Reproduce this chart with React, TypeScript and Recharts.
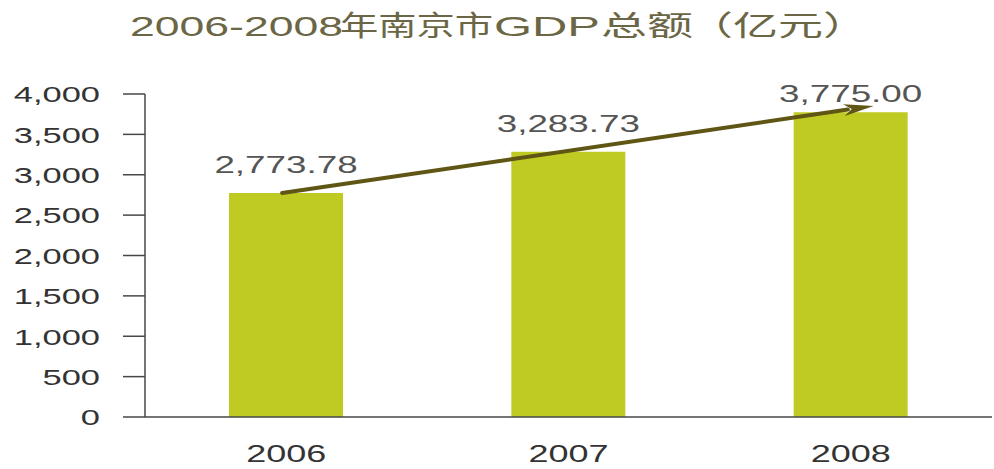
import React from "react";
import { BarChart, Bar, XAxis, YAxis, LabelList, ReferenceLine } from "recharts";

const years = ["2006", "2007", "2008"];
const gdp = [2773.78, 3283.73, 3775.0];
const yTicks = [0, 500, 1000, 1500, 2000, 2500, 3000, 3500, 4000];

const data = years.map((year, i) => ({ year, gdp: gdp[i] }));

const TITLE_COLOR = "#6b6645";
const AXIS_COLOR = "#474747";
const BAR_COLOR = "#bfcb22";
const ARROW_COLOR = "#5f5514";

const font = "'Liberation Sans', Arial, 'Noto Sans CJK SC', sans-serif";

const YTick = ({ x, y, payload }: any) => (
  <text
    transform={`translate(${x} ${y}) scale(1.5 1)`}
    textAnchor="end"
    dy="0.36em"
    fontSize={23}
    fontFamily={font}
    fill="#333"
  >
    {Number(payload.value).toLocaleString("en-US")}
  </text>
);

const XTick = ({ x, y, payload }: any) => (
  <text
    transform={`translate(${x} ${y + 45}) scale(1.5 1)`}
    textAnchor="middle"
    fontSize={24}
    fontFamily={font}
    fill="#333"
  >
    {payload.value}
  </text>
);

const ValueLabel = ({ x, y, width, value, index }: any) => {
  // 最后一个标签离柱顶更近
  const lift = index === gdp.length - 1 ? 10 : 20;
  return (
    <text
      transform={`translate(${x + width / 2} ${y - lift}) scale(1.6 1)`}
      textAnchor="middle"
      fontSize={23}
      fontFamily={font}
      fill="#555"
    >
      {Number(value).toLocaleString("en-US", {
        minimumFractionDigits: 2,
        maximumFractionDigits: 2,
      })}
    </text>
  );
};

// 趋势箭头：从首柱顶到末柱顶，箭头尖稍超出
const Arrow = (props: any) => {
  const { x1, y1, x2, y2 } = props;
  if ([x1, y1, x2, y2].some((v) => typeof v !== "number")) return null;
  const dx = x2 - x1;
  const dy = y2 - y1;
  const len = Math.sqrt(dx * dx + dy * dy);
  const ux = dx / len;
  const uy = dy / len;
  const tipX = x2 + ux * 23;
  const tipY = y2 + uy * 23 - 3;
  const headLen = 30;
  const half = 6;
  const baseX = tipX - ux * headLen;
  const baseY = tipY - uy * headLen;
  const px = -uy;
  const py = ux;
  return (
    <g>
      <line
        x1={x1 - 4}
        y1={y1}
        x2={baseX + ux * 4}
        y2={baseY + uy * 4}
        stroke={ARROW_COLOR}
        strokeWidth={4}
        strokeLinecap="round"
      />
      <polygon
        points={`${tipX},${tipY} ${baseX + px * half},${baseY + py * half} ${baseX + ux * 8},${baseY + uy * 8} ${baseX - px * half},${baseY - py * half}`}
        fill={ARROW_COLOR}
      />
    </g>
  );
};

const Title = () => (
  <svg
    width={994}
    height={60}
    style={{ position: "absolute", left: 0, top: 0 }}
  >
    <g fontSize={28} fontFamily={font} fill={TITLE_COLOR}>
      <text x={130} y={36} textLength={213} lengthAdjust="spacingAndGlyphs">
        2006-2008
      </text>
      <text x={340} y={36} textLength={153} lengthAdjust="spacingAndGlyphs">
        年南京市
      </text>
      <text x={494} y={36} textLength={106} lengthAdjust="spacingAndGlyphs">
        GDP
      </text>
      <text x={601} y={36} textLength={92} lengthAdjust="spacingAndGlyphs">
        总额
      </text>
      <text x={688} y={36} textLength={180} lengthAdjust="spacingAndGlyphs">
        （亿元）
      </text>
    </g>
  </svg>
);

export default function App() {
  return (
    <div
      style={{
        position: "absolute",
        left: 0,
        top: 0,
        width: 994,
        height: 469,
        background: "#fff",
      }}
    >
      <BarChart
        width={994}
        height={469}
        data={data}
        margin={{ top: 94, right: 2, left: 0, bottom: 2 }}
      >
        <XAxis
          dataKey="year"
          axisLine={{ stroke: AXIS_COLOR, strokeWidth: 1.5 }}
          tickLine={false}
          tickSize={0}
          tickMargin={0}
          height={50}
          tick={<XTick />}
        />
        <YAxis
          domain={[0, 4000]}
          ticks={yTicks}
          width={145}
          axisLine={{ stroke: AXIS_COLOR, strokeWidth: 1.5 }}
          tickLine={{ stroke: AXIS_COLOR, strokeWidth: 1.5 }}
          tickSize={22}
          tickMargin={23}
          tick={<YTick />}
          interval={0}
        />
        <Bar dataKey="gdp" fill={BAR_COLOR} barSize={114} isAnimationActive={false}>
          <LabelList dataKey="gdp" content={<ValueLabel />} />
        </Bar>
        <ReferenceLine
          segment={[
            { x: years[0], y: gdp[0] },
            { x: years[years.length - 1], y: gdp[gdp.length - 1] },
          ]}
          shape={<Arrow />}
          ifOverflow="visible"
        />
      </BarChart>
      <Title />
    </div>
  );
}
